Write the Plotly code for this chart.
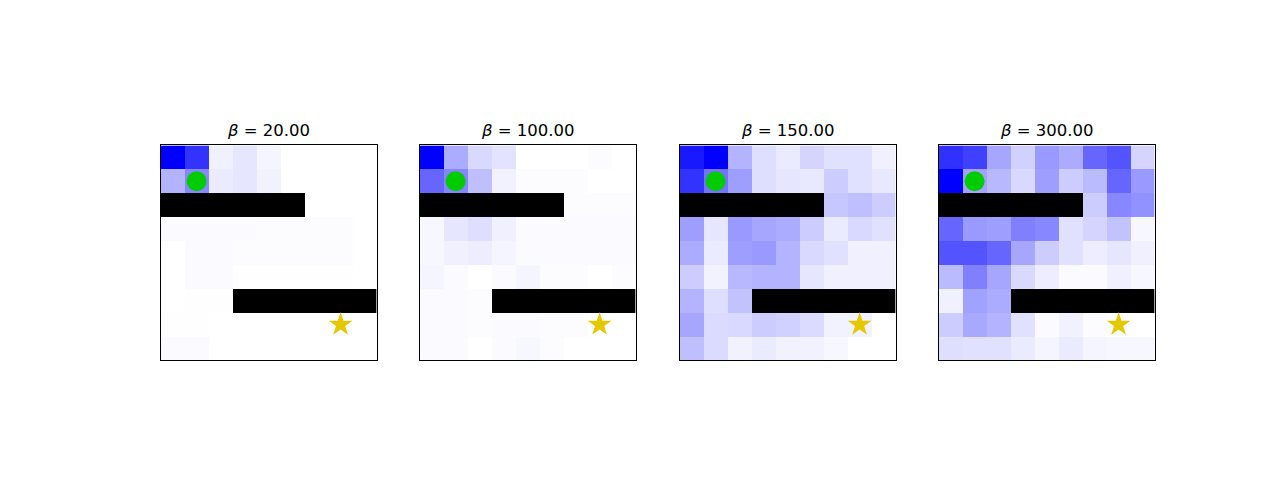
import plotly.graph_objects as go

betas = [20.0, 100.0, 150.0, 300.0]

# 9x9 grid, row 0 = top. 1 = wall
walls = [
    [0, 0, 0, 0, 0, 0, 0, 0, 0],
    [0, 0, 0, 0, 0, 0, 0, 0, 0],
    [1, 1, 1, 1, 1, 1, 0, 0, 0],
    [0, 0, 0, 0, 0, 0, 0, 0, 0],
    [0, 0, 0, 0, 0, 0, 0, 0, 0],
    [0, 0, 0, 0, 0, 0, 0, 0, 0],
    [0, 0, 0, 1, 1, 1, 1, 1, 1],
    [0, 0, 0, 0, 0, 0, 0, 0, 0],
    [0, 0, 0, 0, 0, 0, 0, 0, 0],
]

agent_pos = (1, 1)   # (col, row)
goal_pos = (7, 7)

values_b20 = [
    [1.00, 0.80, 0.06, 0.10, 0.04, 0.00, 0.00, 0.00, 0.00],
    [0.30, 0.47, 0.08, 0.10, 0.05, 0.00, 0.00, 0.00, 0.00],
    [0.00, 0.00, 0.00, 0.00, 0.00, 0.00, 0.00, 0.00, 0.00],
    [0.02, 0.02, 0.02, 0.02, 0.01, 0.01, 0.01, 0.01, 0.00],
    [0.00, 0.015, 0.015, 0.01, 0.01, 0.01, 0.01, 0.01, 0.00],
    [0.00, 0.015, 0.015, 0.005, 0.005, 0.005, 0.005, 0.005, 0.00],
    [0.00, 0.005, 0.005, 0.00, 0.00, 0.00, 0.00, 0.00, 0.00],
    [0.005, 0.005, 0.00, 0.00, 0.00, 0.00, 0.00, 0.00, 0.00],
    [0.02, 0.015, 0.00, 0.00, 0.00, 0.00, 0.00, 0.00, 0.00],
]

values_b100 = [
    [1.00, 0.33, 0.15, 0.11, 0.00, 0.00, 0.00, 0.01, 0.00],
    [0.60, 0.48, 0.25, 0.05, 0.01, 0.01, 0.01, 0.00, 0.00],
    [0.00, 0.00, 0.00, 0.00, 0.00, 0.00, 0.01, 0.01, 0.01],
    [0.03, 0.10, 0.13, 0.06, 0.02, 0.02, 0.02, 0.02, 0.02],
    [0.03, 0.06, 0.07, 0.04, 0.02, 0.02, 0.02, 0.02, 0.02],
    [0.04, 0.02, 0.00, 0.02, 0.04, 0.01, 0.01, 0.00, 0.01],
    [0.02, 0.02, 0.01, 0.00, 0.00, 0.00, 0.00, 0.00, 0.00],
    [0.02, 0.02, 0.01, 0.02, 0.02, 0.01, 0.01, 0.00, 0.00],
    [0.02, 0.02, 0.00, 0.02, 0.03, 0.01, 0.00, 0.00, 0.00],
]

values_b150 = [
    [0.90, 1.00, 0.30, 0.13, 0.08, 0.17, 0.12, 0.12, 0.06],
    [0.80, 0.55, 0.38, 0.13, 0.10, 0.09, 0.20, 0.12, 0.09],
    [0.00, 0.00, 0.00, 0.00, 0.00, 0.00, 0.22, 0.25, 0.20],
    [0.38, 0.10, 0.40, 0.35, 0.33, 0.20, 0.08, 0.15, 0.12],
    [0.33, 0.08, 0.38, 0.40, 0.30, 0.15, 0.12, 0.06, 0.06],
    [0.20, 0.05, 0.28, 0.30, 0.30, 0.10, 0.06, 0.06, 0.06],
    [0.30, 0.13, 0.24, 0.00, 0.00, 0.00, 0.00, 0.00, 0.00],
    [0.35, 0.14, 0.15, 0.20, 0.18, 0.14, 0.05, 0.05, 0.00],
    [0.25, 0.14, 0.05, 0.08, 0.05, 0.05, 0.03, 0.00, 0.00],
]

values_b300 = [
    [0.81, 0.75, 0.35, 0.18, 0.40, 0.33, 0.60, 0.67, 0.17],
    [1.00, 0.36, 0.28, 0.15, 0.38, 0.20, 0.27, 0.60, 0.40],
    [0.00, 0.00, 0.00, 0.00, 0.00, 0.00, 0.20, 0.47, 0.43],
    [0.60, 0.40, 0.38, 0.50, 0.47, 0.12, 0.17, 0.24, 0.03],
    [0.67, 0.67, 0.60, 0.35, 0.20, 0.12, 0.07, 0.10, 0.06],
    [0.27, 0.50, 0.35, 0.15, 0.07, 0.02, 0.02, 0.06, 0.03],
    [0.06, 0.37, 0.33, 0.00, 0.00, 0.00, 0.00, 0.00, 0.00],
    [0.20, 0.34, 0.30, 0.12, 0.02, 0.05, 0.01, 0.00, 0.00],
    [0.13, 0.12, 0.12, 0.08, 0.04, 0.08, 0.04, 0.03, 0.03],
]

all_values = [values_b20, values_b100, values_b150, values_b300]

x_domains = [(160.6, 376.6), (419.6, 635.6), (679.6, 895.6), (938.6, 1154.6)]
W, H = 1282, 500
y_dom = [1 - 360.4 / H, 1 - 145.4 / H]

fig = go.Figure()
n = 9
for i, (beta, vals) in enumerate(zip(betas, all_values)):
    ax = "" if i == 0 else str(i + 1)
    xa, ya = "x" + ax, "y" + ax
    fig.add_trace(go.Heatmap(
        z=vals, x=list(range(n)), y=list(range(n)),
        colorscale=[[0, "#ffffff"], [1, "#0000ff"]],
        zmin=0, zmax=1, showscale=False, xaxis=xa, yaxis=ya,
        hoverinfo="skip",
    ))
    wall_z = [[1 if w else None for w in row] for row in walls]
    fig.add_trace(go.Heatmap(
        z=wall_z, x=list(range(n)), y=list(range(n)),
        colorscale=[[0, "#000000"], [1, "#000000"]],
        zmin=0, zmax=1, showscale=False, xaxis=xa, yaxis=ya,
        hoverinfo="skip",
    ))
    fig.add_trace(go.Scatter(
        x=[agent_pos[0]], y=[agent_pos[1]], mode="markers",
        marker=dict(symbol="circle", size=20, color="#00cc00", line=dict(width=0)),
        xaxis=xa, yaxis=ya, showlegend=False, hoverinfo="skip",
    ))
    fig.add_trace(go.Scatter(
        x=[goal_pos[0]], y=[goal_pos[1]], mode="markers",
        marker=dict(symbol="star", size=18, color="#e6c800", line=dict(width=0)),
        xaxis=xa, yaxis=ya, showlegend=False, hoverinfo="skip",
    ))
    x0, x1 = x_domains[i]
    common = dict(showgrid=False, zeroline=False, showticklabels=False, ticks="",
                  showline=True, linecolor="black", linewidth=1, mirror=True)
    fig.layout["xaxis" + ax] = dict(domain=[x0 / W, x1 / W], range=[-0.5, n - 0.5],
                                    anchor=ya, **common)
    fig.layout["yaxis" + ax] = dict(domain=y_dom, range=[n - 0.5, -0.5],
                                    anchor=xa, **common)
    fig.add_annotation(
        text=f"<i>β</i> = {beta:.2f}", x=(x0 + x1) / 2 / W, y=1 - 130 / H,
        xref="paper", yref="paper", showarrow=False,
        xanchor="center", yanchor="middle",
        font=dict(family="DejaVu Sans", size=16.5, color="black"),
    )

fig.update_layout(
    width=W, height=H, margin=dict(l=0, r=0, t=0, b=0),
    paper_bgcolor="white", plot_bgcolor="white", showlegend=False,
)

fig.write_html("out.html")
